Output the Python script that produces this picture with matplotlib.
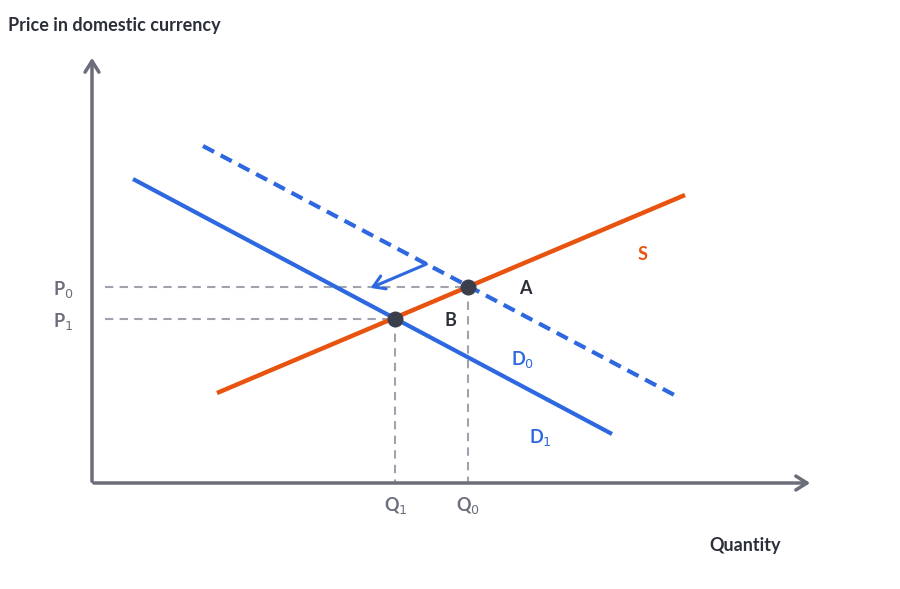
import matplotlib
matplotlib.use("Agg")
import matplotlib.pyplot as plt

# Data (chart coordinates, y increases downward as in the picture)
supply_x = [217, 685]; supply_y = [393, 195]
d0_x = [203, 680]; d0_y = [146, 398]
d1_x = [133, 612]; d1_y = [179, 434]
eq_x = [468, 395]; eq_y = [287, 319]
price_labels = ["P$_0$", "P$_1$"]
qty_labels = ["Q$_1$", "Q$_0$"]

ORANGE = "#E8540F"; BLUE = "#2E68E0"; GRAY = "#6B6E7A"; GUIDE = "#A0A3AD"; DARK = "#2B2F3A"

fig = plt.figure(figsize=(9, 5.89), dpi=100)
ax = fig.add_axes([0, 0, 1, 1])
ax.set_xlim(0, 900); ax.set_ylim(589, 0); ax.axis("off")
plt.rcParams['font.family'] = ['Lato', 'DejaVu Sans']

# axes
ax.annotate("", xy=(92, 55), xytext=(92, 484), arrowprops=dict(arrowstyle="->,head_length=0.8,head_width=0.5", color=GRAY, lw=2.5))
ax.annotate("", xy=(813, 483), xytext=(91, 483), arrowprops=dict(arrowstyle="->,head_length=0.8,head_width=0.5", color=GRAY, lw=2.5))

# guides
for x, y in zip(eq_x, eq_y):
    ax.plot([105, x], [y, y], ls=(0, (4, 3)), color=GUIDE, lw=1.5)
    ax.plot([x, x], [y, 483], ls=(0, (4, 3)), color=GUIDE, lw=1.5)

ax.plot(supply_x, supply_y, color=ORANGE, lw=3.2, solid_capstyle="butt")
ax.plot(d0_x, d0_y, color=BLUE, lw=3, ls=(0, (3, 1.8)))
ax.plot(d1_x, d1_y, color=BLUE, lw=3, solid_capstyle="butt")
ax.scatter(eq_x, eq_y, s=110, color="#3A3F4B", zorder=5)

ax.annotate("", xy=(368, 289), xytext=(429, 263), arrowprops=dict(arrowstyle="->,head_length=0.8,head_width=0.5", color=BLUE, lw=2.2))

kw = dict(fontweight="bold", fontsize=13, ha="center", va="center")
ax.text(63, 289, price_labels[0], color=GRAY, **kw)
ax.text(63, 321, price_labels[1], color=GRAY, **kw)
ax.text(396, 505, qty_labels[0], color=GRAY, **kw)
ax.text(468, 505, qty_labels[1], color=GRAY, **kw)
ax.text(525, 289, "A", color=DARK, **kw)
ax.text(450, 320, "B", color=DARK, **kw)
ax.text(643, 255, "S", color=ORANGE, **kw)
ax.text(523, 359, "D$_0$", color=BLUE, **kw)
ax.text(540, 438, "D$_1$", color=BLUE, **kw)
ax.text(8, 25, "Price in domestic currency", color=DARK, fontweight="bold", fontsize=13, ha="left", va="center")
ax.text(745, 546, "Quantity", color=DARK, fontweight="bold", fontsize=13, ha="center", va="center")

fig.savefig("out.png", dpi=100)
